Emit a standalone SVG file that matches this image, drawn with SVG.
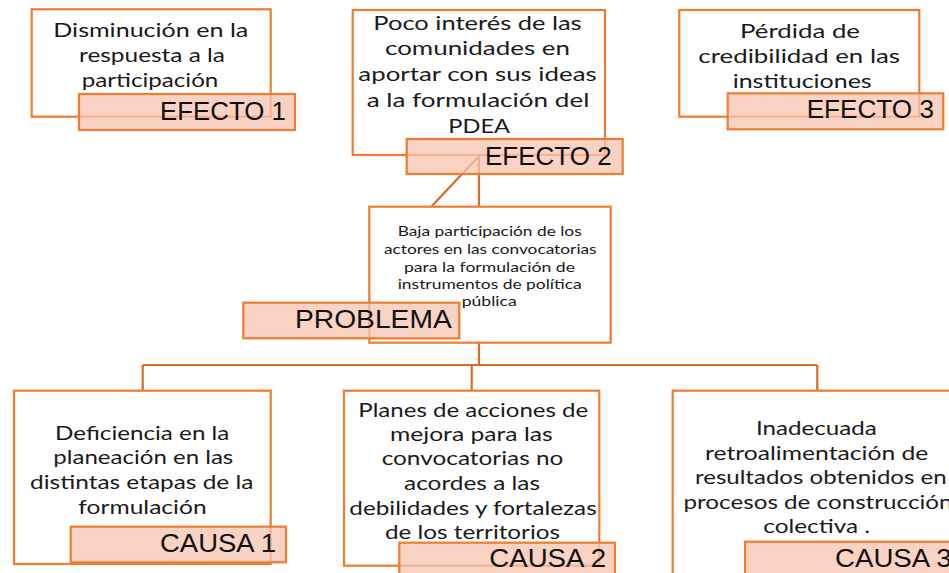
<svg xmlns="http://www.w3.org/2000/svg" width="949" height="573" viewBox="0 0 949 573">
<style>
.box{fill:#ffffff;stroke:#ED7D31;stroke-width:2.2}
.lab{fill:#F6C4B0;fill-opacity:0.75;stroke:#ED7D31;stroke-width:2.2}
.t{font-family:Lato,"Open Sans","Liberation Sans",sans-serif;font-size:19px;fill:#1a1a1a;text-anchor:middle}
.ts{font-family:Lato,"Open Sans","Liberation Sans",sans-serif;font-size:12.5px;fill:#1a1a1a;text-anchor:middle}
.lt{font-family:"Liberation Sans",Arial,sans-serif;font-size:25px;fill:#111111}
.c{stroke:#D96C28;stroke-width:2.2;fill:none}
</style>
<rect width="949" height="573" fill="#ffffff"/>
<g id="connectors">
<line class="c" x1="479" y1="155" x2="479" y2="207"/>
<line class="c" x1="479" y1="156" x2="431" y2="207"/>
<line class="c" x1="479" y1="342.7" x2="479" y2="365"/>
<line class="c" x1="142.7" y1="365" x2="817.3" y2="365"/>
<line class="c" x1="142.7" y1="365" x2="142.7" y2="390.7"/>
<line class="c" x1="471.7" y1="365" x2="471.7" y2="390.7"/>
<line class="c" x1="817.3" y1="365" x2="817.3" y2="390.7"/>
</g>
<g id="efecto1">
<rect class="box" x="31.7" y="9.3" width="239" height="107.4"/>
<text class="t" x="150.8" y="37.3" textLength="195" lengthAdjust="spacingAndGlyphs">Disminución  en la</text>
<text class="t" x="152" y="62" textLength="146" lengthAdjust="spacingAndGlyphs">respuesta a la</text>
<text class="t" x="150" y="87" textLength="136.7" lengthAdjust="spacingAndGlyphs">participación</text>
<rect class="lab" x="79" y="94" width="216" height="36"/>
<text class="lt" x="160" y="120" textLength="126" lengthAdjust="spacingAndGlyphs">EFECTO  1</text>
</g>
<g id="efecto2">
<rect class="box" x="352.7" y="10" width="252.3" height="145"/>
<text class="t" x="477.5" y="29.5" textLength="208.3" lengthAdjust="spacingAndGlyphs">Poco interés de las</text>
<text class="t" x="477.5" y="55.3" textLength="185" lengthAdjust="spacingAndGlyphs">comunidades en</text>
<text class="t" x="477.5" y="81" textLength="238.3" lengthAdjust="spacingAndGlyphs">aportar con sus ideas</text>
<text class="t" x="478" y="106.8" textLength="222.7" lengthAdjust="spacingAndGlyphs">a la formulación del</text>
<text class="t" x="479.2" y="132.6" textLength="61.7" lengthAdjust="spacingAndGlyphs">PDEA</text>
<rect class="lab" x="406.7" y="139" width="216" height="35"/>
<text class="lt" x="485" y="165" textLength="126.7" lengthAdjust="spacingAndGlyphs">EFECTO  2</text>
</g>
<g id="efecto3">
<rect class="box" x="679.3" y="10" width="240" height="106.7"/>
<text class="t" x="800" y="38.3" textLength="120" lengthAdjust="spacingAndGlyphs">Pérdida de</text>
<text class="t" x="799.2" y="63.3" textLength="201.7" lengthAdjust="spacingAndGlyphs">credibilidad en las</text>
<text class="t" x="802.2" y="88.3" textLength="139" lengthAdjust="spacingAndGlyphs">instituciones</text>
<rect class="lab" x="727.7" y="93.3" width="215.6" height="36"/>
<text class="lt" x="806.7" y="118.3" textLength="127.3" lengthAdjust="spacingAndGlyphs">EFECTO  3</text>
</g>
<g id="problema">
<rect class="box" x="369.3" y="206.7" width="241.4" height="136"/>
<text class="ts" x="489.7" y="236" textLength="184" lengthAdjust="spacingAndGlyphs">Baja participación de los</text>
<text class="ts" x="490.3" y="254" textLength="212.7" lengthAdjust="spacingAndGlyphs">actores en las convocatorias</text>
<text class="ts" x="489.5" y="271.5" textLength="171" lengthAdjust="spacingAndGlyphs">para la formulación de</text>
<text class="ts" x="489.7" y="289.3" textLength="184" lengthAdjust="spacingAndGlyphs">instrumentos de política</text>
<text class="ts" x="489.2" y="305.7" textLength="55" lengthAdjust="spacingAndGlyphs">pública</text>
<rect class="lab" x="243.3" y="302.7" width="216" height="35.6"/>
<text class="lt" x="295" y="327.7" textLength="156.7" lengthAdjust="spacingAndGlyphs">PROBLEMA</text>
</g>
<g id="causa1">
<rect class="box" x="14" y="390.7" width="256.7" height="173.3"/>
<text class="t" x="142.2" y="440" textLength="174.3" lengthAdjust="spacingAndGlyphs">Deficiencia en la</text>
<text class="t" x="143.3" y="464" textLength="180" lengthAdjust="spacingAndGlyphs">planeación en las</text>
<text class="t" x="141.7" y="489" textLength="223.3" lengthAdjust="spacingAndGlyphs">distintas etapas de la</text>
<text class="t" x="142.5" y="514" textLength="128.3" lengthAdjust="spacingAndGlyphs">formulación</text>
<rect class="lab" x="70.7" y="526.7" width="215.3" height="35.6"/>
<text class="lt" x="160" y="551.7" textLength="116" lengthAdjust="spacingAndGlyphs">CAUSA 1</text>
</g>
<g id="causa2">
<rect class="box" x="344" y="390.7" width="255.3" height="175"/>
<text class="t" x="473.3" y="416.7" textLength="230" lengthAdjust="spacingAndGlyphs">Planes de acciones de</text>
<text class="t" x="471.3" y="440.7" textLength="162.7" lengthAdjust="spacingAndGlyphs">mejora para las</text>
<text class="t" x="472.5" y="465" textLength="181.7" lengthAdjust="spacingAndGlyphs">convocatorias no</text>
<text class="t" x="472" y="490" textLength="136" lengthAdjust="spacingAndGlyphs">acordes a las</text>
<text class="t" x="473" y="515" textLength="247.3" lengthAdjust="spacingAndGlyphs">debilidades y fortalezas</text>
<text class="t" x="472.5" y="539.3" textLength="175" lengthAdjust="spacingAndGlyphs">de los territorios</text>
<rect class="lab" x="399.3" y="542.7" width="215.7" height="36"/>
<text class="lt" x="489.3" y="566.7" textLength="116.7" lengthAdjust="spacingAndGlyphs">CAUSA 2</text>
</g>
<g id="causa3">
<rect class="box" x="672.7" y="390.7" width="292" height="190"/>
<text class="t" x="816.3" y="435" textLength="120.7" lengthAdjust="spacingAndGlyphs">Inadecuada</text>
<text class="t" x="816.7" y="459.5" textLength="223.3" lengthAdjust="spacingAndGlyphs">retroalimentación de</text>
<text class="t" x="820.8" y="484" textLength="251.7" lengthAdjust="spacingAndGlyphs">resultados obtenidos en</text>
<text class="t" x="818" y="508.5" textLength="269" lengthAdjust="spacingAndGlyphs">procesos de construcción</text>
<text class="t" x="816.7" y="533" textLength="106.7" lengthAdjust="spacingAndGlyphs">colectiva .</text>
<rect class="lab" x="745" y="541.7" width="216" height="36"/>
<text class="lt" x="835" y="566.7" textLength="116.7" lengthAdjust="spacingAndGlyphs">CAUSA 3</text>
</g>
</svg>
